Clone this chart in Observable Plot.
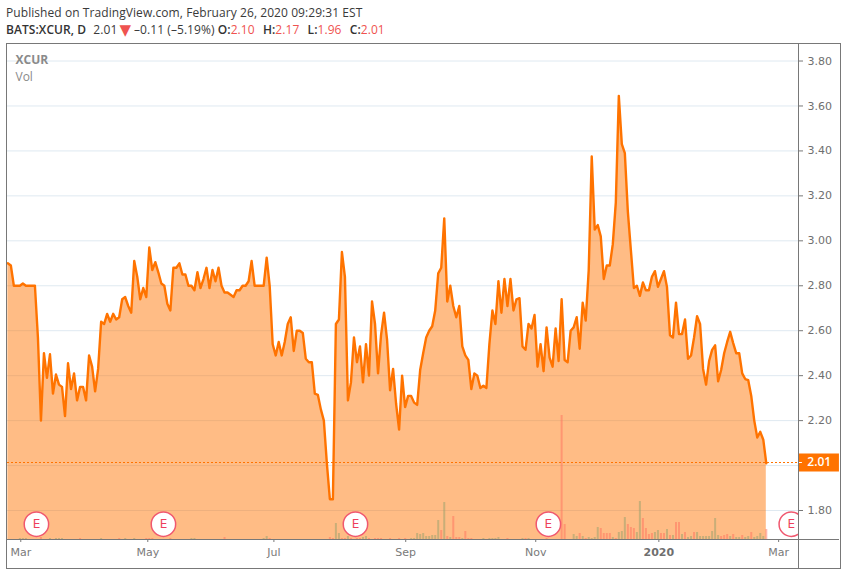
<!DOCTYPE html>
<html><head><meta charset="utf-8">
<script src="https://cdn.jsdelivr.net/npm/d3@7"></script>
<script src="https://cdn.jsdelivr.net/npm/@observablehq/plot@0.6"></script>
<style>
html,body{margin:0;padding:0;background:#fff}
#page{position:relative;width:846px;height:574px;overflow:hidden}
#head{height:43px;box-sizing:border-box;padding:5px 0 0 6px;font:12px/16.6px "Open Sans",sans-serif;color:#3a3a3a;white-space:nowrap;letter-spacing:.07px}
#head b{font-weight:600;color:#333}
#head .r{color:#ef5350}
#head .g{margin-left:5px}
#head .t{font:15px/0 "DejaVu Sans",sans-serif;color:#ef5350;margin:0 3px 0 2px;position:relative;top:1px}
#head .n{margin-left:4px}
svg{display:block}
#box{position:absolute;left:6px;top:43px;width:833px;height:524px;border:1px solid #787878;pointer-events:none}
#sepV{position:absolute;left:798px;top:43px;width:1px;height:525px;background:#787878}
#sepH{position:absolute;left:7px;top:539px;width:832px;height:1px;background:#787878}
</style></head><body>
<div id="page">
<div id="head">
<div>Published on TradingView.com, February 26, 2020 09:29:31 EST</div>
<div><b>BATS:XCUR, D</b><span class="n">&nbsp;2.01</span><span class="t">▼</span>–0.11 (–5.19%) <b>O:</b><span class="r">2.10</span> <b class="g">H:</b><span class="r">2.17</span> <b class="g">L:</b><span class="r">1.96</span> <b class="g">C:</b><span class="r">2.01</span></div>
</div>
<div id="chart"></div>
<div id="box"></div><div id="sepV"></div><div id="sepH"></div>
</div>
<script>
const closes = [
2.90,2.89,2.80,2.80,2.80,2.81,2.80,2.80,2.80,2.80,
2.57,2.20,2.50,2.39,2.495,2.32,2.405,2.36,2.35,2.22,
2.455,2.34,2.41,2.29,2.35,2.35,2.29,2.49,2.44,2.33,
2.43,2.64,2.63,2.675,2.64,2.675,2.65,2.66,2.74,2.75,
2.71,2.68,2.91,2.84,2.74,2.79,2.75,2.97,2.87,2.905,
2.86,2.81,2.80,2.72,2.69,2.88,2.88,2.90,2.85,2.85,
2.80,2.80,2.78,2.86,2.79,2.83,2.88,2.79,2.87,2.82,
2.88,2.80,2.77,2.77,2.76,2.75,2.78,2.78,2.80,2.80,
2.82,2.91,2.80,2.80,2.80,2.80,2.925,2.80,
2.54,2.49,2.55,2.49,2.55,2.63,2.66,2.51,2.60,2.60,
2.59,2.475,2.46,2.46,2.32,2.315,2.25,2.20,2.01,1.85,
1.85,2.63,2.65,2.95,2.84,2.29,2.37,2.57,2.46,2.53,
2.37,2.54,2.40,2.73,2.63,2.41,2.58,2.68,2.56,2.335,
2.43,2.275,2.16,2.40,2.26,2.31,2.31,2.28,2.27,2.425,
2.50,2.57,2.60,2.62,2.69,2.855,2.88,3.10,2.73,2.80,
2.71,2.66,2.71,2.53,2.49,2.47,2.34,2.41,2.40,2.345,
2.355,2.345,2.54,2.69,2.63,2.82,2.68,2.83,2.71,2.83,
2.69,2.74,2.745,2.53,2.515,2.63,2.61,2.67,2.44,2.54,2.42,
2.615,2.48,2.44,2.61,2.465,2.74,2.47,2.46,2.60,2.615,
2.66,2.52,2.725,2.645,2.87,3.375,3.05,3.07,3.02,2.83,
2.89,2.89,2.985,3.17,3.645,3.43,3.39,3.13,2.96,2.79,
2.80,2.755,2.815,2.78,2.78,2.84,2.865,2.795,2.83,2.865,
2.795,2.58,2.57,2.725,2.585,2.585,2.65,2.475,2.49,2.57,
2.665,2.63,2.43,2.36,2.465,2.515,2.535,2.375,2.425,2.50,
2.55,2.595,2.545,2.50,2.50,2.41,2.385,2.38,2.31,2.20,
2.125,2.15,2.115,2.01];

// volume by trading-day index, split by up / down day (relative units)
const upVolume = [[4,1],[5,1],[6,1],[14,1],[16,1],[17,1],[18,1],[31,1],[39,1],[42,1],[61,1],[62,1],[85,1],[86,3],
[109,16],[110,6],[113,3],[118,2],[119,3],[134,1],[135,1],[136,6],[137,5],[138,6],[139,3],[140,3],[141,4],[142,4],[143,19],[145,37],[147,2],[151,1],
[158,1],[160,1],[161,1],[162,1],[163,2],[171,1],[173,1],
[188,5],[189,3],[191,3],[193,2],[194,1],[195,2],[196,12],[201,2],[203,7],[204,8],[205,22],[209,7],[210,38],[215,7],[216,9],[219,10],[221,4],[224,5],[226,2],[227,3],[229,7],[230,3],[231,3],[232,3],[233,3],[234,8],[235,21],[236,4],[240,3],[242,2],[243,2],[245,2],[246,3],[248,2],[249,3],[250,6],[251,3]];
const downVolume = [[11,2],[24,1],[37,1],[46,1],[47,1],[48,1],[54,1],[72,2],[87,1],
[107,2],[108,1],[111,1],[112,1],[114,1],[116,1],[117,1],[120,1],[122,1],[123,1],[124,1],[127,1],[130,1],[132,1],[144,9],[146,3],[148,23],[149,2],[150,2],[152,8],[153,1],[154,1],[166,1],[172,1],[179,1],
[184,124],[185,15],[190,6],[192,1],[197,11],[198,6],[199,6],[200,6],[202,1],[206,15],[207,12],[208,11],[211,21],[212,11],[213,5],[214,6],[217,6],[218,6],[220,4],[222,17],[223,17],[225,7],[228,7],[237,3],[238,4],[239,5],[241,5],[244,4],[247,7],[252,10]];

const earnings = [9.5, 51.7, 115.5, 179.6, 260.3];
const monthTicks = [4.3, 46.5, 88.4, 132.2, 175.4, 256.1];
const monthLabels = ["Mar","May","Jul","Sep","Nov","Mar"];
const yearTicks = [216.3];
const yearLabels = ["2020"];
const gridTicks = [1.8,2.0,2.2,2.4,2.6,2.8,3.0,3.2,3.4,3.6,3.8];
const priceLabels = [1.8,2.2,2.4,2.6,2.8,3.0,3.2,3.4,3.6,3.8];
const lastClose = 2.01;

const yMin = 1.671, yMax = 3.878;
const xMin = -0.11, xMax = 262.7, xOuter = 276.3;
const earningsLevel = 1.739;
const orange = "#ff7300";
const volToPrice = d3.scaleLinear([0,124],[yMin,yMin+0.5517]);
const series = closes.map((c,i)=>({i,c}));
const monthMap = new Map(monthTicks.map((t,k)=>[t,monthLabels[k]]));
const yearMap = new Map(yearTicks.map((t,k)=>[t,yearLabels[k]]));
const axisFont = "DejaVu Sans";

const chart = Plot.plot({
  width:846, height:531,
  marginLeft:7, marginRight:48, marginTop:0, marginBottom:35,
  style:{background:"transparent",fontFamily:axisFont,fontSize:"11px",color:"#6f6f6f"},
  x:{type:"linear",domain:[xMin,xMax],label:null},
  y:{domain:[yMin,yMax],label:null},
  marks:[
    Plot.ruleY(gridTicks,{stroke:"#dfe9f1",strokeWidth:1}),
    Plot.areaY(series,{x:"i",y1:yMin,y2:"c",fill:orange,fillOpacity:0.48,curve:"linear"}),
    Plot.ruleX(upVolume,{x:d=>d[0],y1:yMin,y2:d=>volToPrice(d[1]),stroke:"#939f6b",strokeOpacity:.5,strokeWidth:2}),
    Plot.ruleX(downVolume,{x:d=>d[0],y1:yMin,y2:d=>volToPrice(d[1]),stroke:"#ff6f5e",strokeOpacity:.5,strokeWidth:2}),
    Plot.line(series,{x:"i",y:"c",stroke:orange,strokeWidth:2.4,curve:"linear"}),
    Plot.ruleY([lastClose],{stroke:orange,strokeWidth:1,strokeDasharray:"2 2",dy:-0.8}),
    Plot.dot(earnings,{x:d=>d,y:earningsLevel,r:12.2,fill:"#fff",stroke:"#f0586f",strokeWidth:1.5,clip:"frame"}),
    Plot.text(earnings,{x:d=>d,y:earningsLevel,text:()=>"E",fill:"#ee3f5c",fontSize:12,clip:"frame"}),
    Plot.text(["XCUR"],{frameAnchor:"top-left",dx:8,dy:12,fontWeight:"bold",fontSize:12,fill:"#8a8a8a",fontFamily:"Open Sans"}),
    Plot.text(["Vol"],{frameAnchor:"top-left",dx:8,dy:29,fontSize:12,fill:"#8a8a8a",fontFamily:"Open Sans"}),
    Plot.axisY({anchor:"right",ticks:priceLabels,tickSize:4,tickPadding:5,tickFormat:d3.format(".2f"),label:null,stroke:"#787878",fill:"#6f6f6f"}),
    Plot.axisX({anchor:"bottom",ticks:monthTicks,tickSize:3,tickPadding:6,tickFormat:d=>monthMap.get(d),label:null,stroke:"#787878",fill:"#7a7a7a"}),
    Plot.axisX({anchor:"bottom",ticks:yearTicks,tickSize:3,tickPadding:6,tickFormat:d=>yearMap.get(d),label:null,stroke:"#787878",fill:"#6f6f6f",fontWeight:"bold"}),
    Plot.ruleY([lastClose],{x1:xMax,x2:xOuter,stroke:orange,strokeWidth:18,dy:-0.8}),
    Plot.ruleY([lastClose],{x1:xMax,x2:xMax+1.3,stroke:"#fff",strokeWidth:1,dy:-0.8}),
    Plot.text(["2.01"],{x:xMax+6.9,y:lastClose,dy:-0.8,fill:"#fff",fontWeight:600,fontSize:12,fontFamily:"Open Sans"})
  ]
});
document.getElementById("chart").appendChild(chart);
</script>
</body></html>
